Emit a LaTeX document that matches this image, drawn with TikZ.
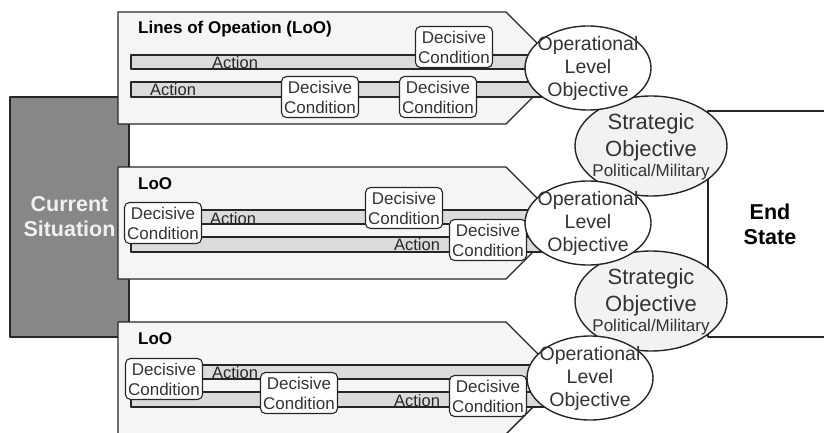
\documentclass[tikz,border=0pt]{standalone}
\usepackage{fontspec}
\setmainfont{Liberation Sans}
\usepackage{tikz}
\usetikzlibrary{%
  shapes.geometric,% wg. ellipse
  positioning%
}

\begin{document}
\begin{tikzpicture}[
    x=1pt,y=-1pt,
    line join=round,
    outline/.style={draw=black!85,line width=1.4pt},
    band/.style={outline,fill=black!4},
    bar/.style={outline,line width=1.2pt,fill=black!14},
    decisive/.style={rectangle,outline,line width=1.1pt,fill=white,
        rounded corners=5pt,minimum width=77pt,minimum height=41pt,
        inner sep=1pt,align=center,text=black!80,
        font=\fontsize{17}{20}\selectfont},
    action/.style={inner sep=0pt,text=black!85,
        font=\fontsize{16.5}{18}\selectfont},
    loo/.style={anchor=west,inner sep=0pt,
        font=\bfseries\fontsize{17}{20}\selectfont},
    operational/.style={ellipse,outline,fill=white,inner sep=0pt,
        minimum width=126pt,minimum height=84pt},
    strategic/.style={ellipse,outline,fill=black!5,inner sep=0pt,
        minimum width=152pt,minimum height=100pt},
    inside/.style={align=center,inner sep=0pt,text=black!80},
    bigbox/.style={rectangle,outline,align=center,inner sep=0pt,
        font=\bfseries\fontsize{21.5}{25}\selectfont}
  ]

    \useasboundingbox (0,0) rectangle (824,433);
    \clip (0,0) rectangle (824,433);

    \node[bigbox,fill=white,minimum width=124pt,minimum height=226pt]
        (end state) at (770,224) {End\\State};
    \node[bigbox,fill=black!47,text=white!94!black,
        minimum width=119pt,minimum height=240pt]
        (current) at (69.5,217) {Current\\Situation};

    \foreach \dy in {0,155,310}{
        \draw[band] (118,12+\dy) -- (506,12+\dy) -- (562,68+\dy)
            -- (506,124+\dy) -- (118,124+\dy) -- cycle;
        \draw[bar] (131,55+\dy) rectangle (545,69+\dy);
        \draw[bar] (131,82+\dy) rectangle (545,97+\dy);
    }

    \node[loo] (loo1) at (138,29)  {Lines of Opeation (LoO)};
    \node[loo] (loo2) at (138,184) {LoO};
    \node[loo] (loo3) at (138,339) {LoO};

    \node[action] (act11) at (235,63)  {Action};
    \node[action] (act12) at (173,90)  {Action};
    \node[action] (act21) at (233,219) {Action};
    \node[action] (act22) at (417,245) {Action};
    \node[action] (act31) at (235,373) {Action};
    \node[action] (act32) at (417,401) {Action};

    \node[decisive] (dc11) at (454,47)  {Decisive\\Condition};
    \node[decisive] (dc12) at (320,97)  {Decisive\\Condition};
    \node[decisive] (dc13) at (438,97)  {Decisive\\Condition};
    \node[decisive] (dc21) at (163,223) {Decisive\\Condition};
    \node[decisive] (dc22) at (404,208) {Decisive\\Condition};
    \node[decisive] (dc23) at (488,240) {Decisive\\Condition};
    \node[decisive] (dc31) at (164,379) {Decisive\\Condition};
    \node[decisive] (dc32) at (299,393) {Decisive\\Condition};
    \node[decisive] (dc33) at (488,396) {Decisive\\Condition};

    \node[strategic] (so1) at (651,146) {};
    \node[strategic] (so2) at (651,301) {};
    \node[inside,font=\fontsize{22}{27}\selectfont] (so1 text) at (651,147)
        {Strategic\\Objective\\[-7pt]{\fontsize{17}{18}\selectfont Political/Military}};
    \node[inside,font=\fontsize{22}{27}\selectfont] (so2 text) at (651,302)
        {Strategic\\Objective\\[-7pt]{\fontsize{17}{18}\selectfont Political/Military}};

    \node[operational] (olo1) at (588,68)  {};
    \node[operational] (olo2) at (588,223) {};
    \node[operational] (olo3) at (590,378) {};
    \node[inside,font=\fontsize{19.5}{23}\selectfont] (olo1 text) at (olo1)
        {Operational\\Level\\Objective};
    \node[inside,font=\fontsize{19.5}{23}\selectfont] (olo2 text) at (olo2)
        {Operational\\Level\\Objective};
    \node[inside,font=\fontsize{19.5}{23}\selectfont] (olo3 text) at (olo3)
        {Operational\\Level\\Objective};
\end{tikzpicture}
\end{document}
